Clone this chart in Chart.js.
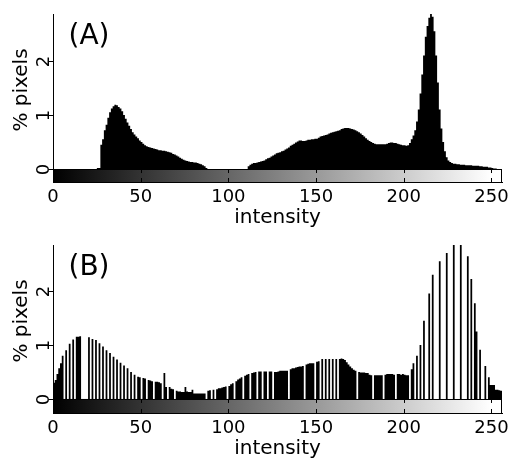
<!DOCTYPE html>
<html>
<head>
<meta charset="utf-8">
<script src="https://cdn.jsdelivr.net/npm/chart.js@4.4.1/dist/chart.umd.min.js"></script>
<style>
  html, body { margin: 0; padding: 0; background: #fff; }
  body { width: 513px; height: 465px; position: relative; overflow: hidden; }
  canvas { position: absolute; left: 0; }
  #histA { top: 0; }
  #histB { top: 231px; }
</style>
</head>
<body>
<canvas id="histA" width="513" height="232"></canvas>
<canvas id="histB" width="513" height="232"></canvas>
<script>
// intensity bins 0..255
const intensity = Array.from({ length: 256 }, (_, i) => i);

// (A) % pixels per intensity
const pixelsA = [
    0, 0, 0, 0, 0, 0, 0, 0, 0, 0, 0, 0, 0, 0, 0, 0,
    0, 0, 0, 0, 0, 0, 0, 0, 0, 0.02, 0.02, 0.45, 0.55, 0.72, 0.82, 0.95,
    1.05, 1.12, 1.16, 1.19, 1.18, 1.15, 1.12, 1.07, 1.0, 0.93, 0.86, 0.8, 0.74, 0.68, 0.64, 0.6,
    0.57, 0.53, 0.5, 0.47, 0.44, 0.42, 0.41, 0.4, 0.39, 0.38, 0.37, 0.36, 0.35, 0.35, 0.34, 0.34,
    0.33, 0.32, 0.31, 0.3, 0.28, 0.27, 0.25, 0.23, 0.21, 0.19, 0.17, 0.16, 0.15, 0.14, 0.13, 0.13,
    0.12, 0.12, 0.11, 0.1, 0.09, 0.07, 0.05, 0.02, 0, 0, 0, 0, 0, 0, 0, 0,
    0, 0, 0, 0, 0, 0, 0, 0, 0, 0, 0, 0, 0, 0, 0, 0.05,
    0.08, 0.1, 0.11, 0.11, 0.12, 0.13, 0.14, 0.15, 0.16, 0.18, 0.2, 0.21, 0.23, 0.25, 0.27, 0.29,
    0.3, 0.31, 0.33, 0.34, 0.36, 0.38, 0.4, 0.43, 0.45, 0.47, 0.49, 0.51, 0.53, 0.53, 0.52, 0.52,
    0.53, 0.54, 0.54, 0.55, 0.55, 0.56, 0.56, 0.58, 0.6, 0.61, 0.62, 0.63, 0.64, 0.66, 0.67, 0.68,
    0.69, 0.7, 0.71, 0.72, 0.74, 0.75, 0.76, 0.76, 0.76, 0.75, 0.74, 0.73, 0.72, 0.7, 0.68, 0.66,
    0.63, 0.6, 0.57, 0.54, 0.52, 0.5, 0.48, 0.47, 0.46, 0.46, 0.46, 0.46, 0.46, 0.46, 0.47, 0.48,
    0.49, 0.49, 0.48, 0.48, 0.47, 0.46, 0.45, 0.44, 0.44, 0.43, 0.44, 0.48, 0.55, 0.62, 0.72, 0.88,
    1.1, 1.4, 1.75, 2.1, 2.45, 2.65, 2.8, 2.87, 2.82, 2.55, 2.1, 1.6, 1.1, 0.75, 0.5, 0.33,
    0.22, 0.16, 0.13, 0.11, 0.1, 0.1, 0.09, 0.09, 0.08, 0.08, 0.08, 0.07, 0.07, 0.07, 0.07, 0.06,
    0.06, 0.06, 0.06, 0.05, 0.05, 0.04, 0.04, 0.04, 0.03, 0.03, 0.02, 0.01, 0.01, 0, 0, 0
];

// (B) % pixels per intensity, empty bins show as white stripes
const pixelsB = [
    0.3, 0.35, 0.46, 0.57, 0.66, 0.8, 0, 0.9, 0, 1.02, 0, 1.1, 0, 1.15, 1.15, 1.16,
    0, 0, 0, 0, 1.14, 0, 1.11, 0, 1.09, 0, 1.03, 0, 0.97, 0, 0.9, 0,
    0.85, 0, 0.78, 0, 0.73, 0, 0.67, 0, 0.62, 0, 0.57, 0, 0.5, 0, 0.45, 0,
    0.41, 0.4, 0, 0.39, 0.38, 0, 0.35, 0.34, 0.33, 0, 0.32, 0.32, 0.31, 0.29, 0, 0.48,
    0.22, 0, 0.22, 0.19, 0.18, 0, 0.15, 0.14, 0.14, 0.13, 0.13, 0.22, 0.14, 0.13, 0.13, 0.17,
    0.1, 0.1, 0.1, 0.1, 0.1, 0.1, 0.1, 0, 0.15, 0.16, 0, 0.17, 0, 0.18, 0.2, 0.2,
    0.21, 0.22, 0.23, 0, 0.24, 0.27, 0.29, 0, 0.33, 0.36, 0.38, 0.4, 0, 0.43, 0.45, 0.46,
    0, 0.48, 0.49, 0.5, 0, 0.51, 0.51, 0, 0.51, 0.51, 0, 0.51, 0.51, 0, 0.5, 0.5,
    0.51, 0.52, 0.52, 0.52, 0.52, 0.52, 0, 0.55, 0.57, 0.57, 0.58, 0.59, 0.6, 0.6, 0.61, 0,
    0.64, 0.65, 0.66, 0.66, 0.66, 0, 0.69, 0.7, 0, 0.74, 0, 0.74, 0, 0.74, 0, 0.74,
    0, 0.74, 0, 0.74, 0.75, 0.74, 0.72, 0.68, 0.64, 0.6, 0.57, 0.54, 0.52, 0, 0.5, 0.49,
    0.49, 0.49, 0.48, 0.48, 0.45, 0.44, 0, 0.44, 0.44, 0.44, 0.44, 0.44, 0, 0.45, 0.46, 0.46,
    0.46, 0.46, 0.45, 0, 0.46, 0.46, 0.45, 0.46, 0.45, 0.44, 0.44, 0, 0.55, 0.66, 0, 0.8,
    0, 1.0, 0, 1.45, 0, 0, 1.95, 0, 2.3, 0, 0, 0, 2.55, 0, 0, 0,
    2.7, 0, 0, 0, 2.85, 0, 0, 0, 2.85, 0, 0, 0, 2.64, 0, 2.22, 0,
    1.77, 1.25, 0, 0.91, 0, 0, 0.61, 0, 0.4, 0.26, 0.26, 0.26, 0.17, 0.17, 0.16, 0.15
];

const xTickValues = [0, 50, 100, 150, 200, 250];
const yTickValues = [0, 1, 2];

Chart.defaults.font.family = '"DejaVu Sans", sans-serif';
Chart.defaults.color = '#000';

// grey ramp under the baseline, ticks, rotated y labels and panel tag
const panelDecor = {
    id: 'panelDecor',
    beforeDatasetsDraw(chart) {
        const { ctx, chartArea, scales: { x, y } } = chart;
        const x0 = x.getPixelForValue(0);
        const x1 = x.getPixelForValue(256);
        const yTop = y.getPixelForValue(0);
        const yBot = chartArea.bottom;
        const grad = ctx.createLinearGradient(x0, 0, x.getPixelForValue(250), 0);
        grad.addColorStop(0, '#000');
        grad.addColorStop(1, '#fff');
        ctx.save();
        ctx.fillStyle = grad;
        ctx.fillRect(x0, yTop, x1 - x0, yBot - yTop);
        ctx.strokeStyle = '#000';
        ctx.lineWidth = 1;
        ctx.strokeRect(Math.round(x0) + 0.5, Math.round(yTop) + 0.5, Math.round(x1 - x0) - 1, Math.round(yBot - yTop));
        ctx.beginPath();
        xTickValues.forEach(v => {
            const px = Math.round(x.getPixelForValue(v)) + 0.5;
            ctx.moveTo(px, yTop);
            ctx.lineTo(px, yTop + 4);
            ctx.moveTo(px, yBot);
            ctx.lineTo(px, yBot - 4);
        });
        ctx.stroke();
        ctx.restore();
    },
    afterDraw(chart, args, opts) {
        const { ctx, chartArea, scales: { y } } = chart;
        ctx.save();
        ctx.fillStyle = '#000';
        ctx.strokeStyle = '#000';
        ctx.lineWidth = 1;
        ctx.textAlign = 'center';
        ctx.textBaseline = 'middle';
        ctx.font = '18px "DejaVu Sans"';
        yTickValues.forEach(v => {
            const py = Math.round(y.getPixelForValue(v)) + 0.5;
            ctx.beginPath();
            ctx.moveTo(chartArea.left - 4, py);
            ctx.lineTo(chartArea.left, py);
            ctx.stroke();
            ctx.save();
            ctx.translate(44, py);
            ctx.rotate(-Math.PI / 2);
            ctx.fillText(String(v), 0, 0);
            ctx.restore();
        });
        ctx.save();
        ctx.translate(22, 90);
        ctx.rotate(-Math.PI / 2);
        ctx.font = '20px "DejaVu Sans"';
        ctx.fillText('% pixels', 0, 0);
        ctx.restore();
        ctx.font = '28px "DejaVu Sans"';
        ctx.fillText(opts.tag, 89, 37);
        ctx.restore();
    }
};

function drawHistogram(canvasId, values, tag, yMin, yMax) {
    const points = intensity.map((v, i) => ({ x: v, y: values[i] }));
    points.push({ x: 256, y: values[values.length - 1] });

    return new Chart(document.getElementById(canvasId), {
        type: 'line',
        data: {
            datasets: [{
                data: points,
                stepped: true,
                fill: 'origin',
                backgroundColor: '#000',
                borderColor: 'rgba(0,0,0,0)',
                borderWidth: 0,
                pointRadius: 0
            }]
        },
        options: {
            responsive: false,
            animation: false,
            events: [],
            layout: { padding: { top: 14, right: 11, left: 0, bottom: 0 } },
            plugins: {
                legend: { display: false },
                tooltip: { enabled: false },
                panelDecor: { tag: tag }
            },
            scales: {
                x: {
                    type: 'linear',
                    min: 0,
                    max: 256,
                    grid: { display: false, drawTicks: false },
                    border: { display: true, color: '#000', width: 1 },
                    ticks: { font: { size: 18 }, padding: 5, maxRotation: 0, autoSkip: false },
                    title: { display: true, text: 'intensity', font: { size: 20 }, padding: { top: 0, bottom: 2 } },
                    afterBuildTicks: s => { s.ticks = xTickValues.map(v => ({ value: v })); },
                    afterFit: s => { s.height = 50; s.paddingLeft = 0; s.paddingRight = 0; }
                },
                y: {
                    type: 'linear',
                    min: yMin,
                    max: yMax,
                    grid: { display: false, drawTicks: false },
                    border: { display: true, color: '#000', width: 1 },
                    ticks: { display: false },
                    afterBuildTicks: s => { s.ticks = yTickValues.map(v => ({ value: v })); },
                    afterFit: s => { s.width = 53; s.paddingTop = 0; s.paddingBottom = 0; }
                }
            }
        },
        plugins: [panelDecor]
    });
}

drawHistogram('histA', pixelsA, '(A)', -0.24, 2.87);
drawHistogram('histB', pixelsB, '(B)', -0.26, 2.85);
</script>
</body>
</html>
